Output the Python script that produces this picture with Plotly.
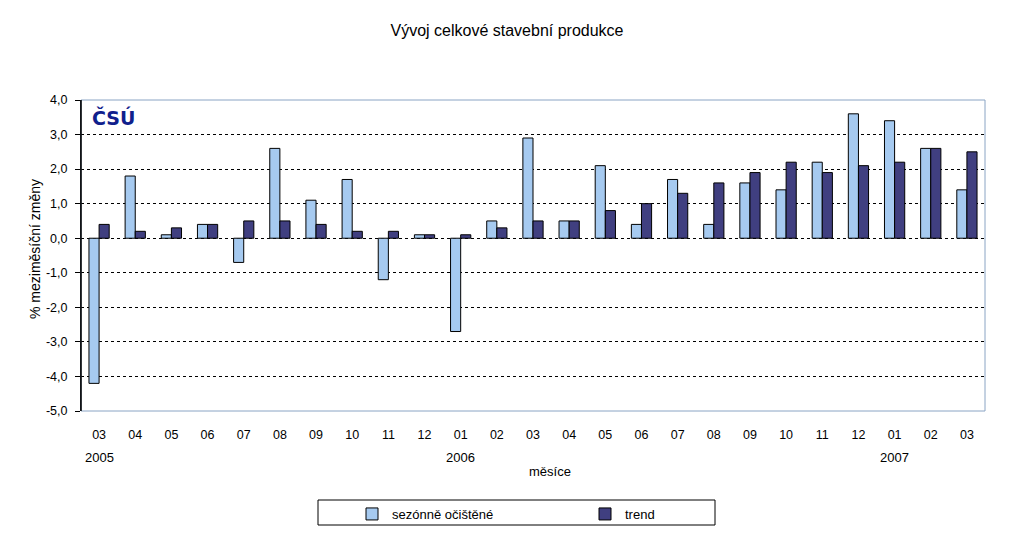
import plotly.graph_objects as go

months = ["03", "04", "05", "06", "07", "08", "09", "10", "11", "12",
          "01", "02", "03", "04", "05", "06", "07", "08", "09", "10", "11", "12",
          "01", "02", "03"]
sezonne = [-4.2, 1.8, 0.1, 0.4, -0.7, 2.6, 1.1, 1.7, -1.2, 0.1,
           -2.7, 0.5, 2.9, 0.5, 2.1, 0.4, 1.7, 0.4, 1.6, 1.4, 2.2, 3.6,
           3.4, 2.6, 1.4]
trend = [0.4, 0.2, 0.3, 0.4, 0.5, 0.5, 0.4, 0.2, 0.2, 0.1,
         0.1, 0.3, 0.5, 0.5, 0.8, 1.0, 1.3, 1.6, 1.9, 2.2, 1.9, 2.1,
         2.2, 2.6, 2.5]
years = ["2005", "2006", "2007"]
year_idx = [0, 10, 22]
ytick_vals = [-5, -4, -3, -2, -1, 0, 1, 2, 3, 4]
ytick_text = ["-5,0", "-4,0", "-3,0", "-2,0", "-1,0", "0,0", "1,0", "2,0", "3,0", "4,0"]

xs = list(range(len(months)))
FONT = "Liberation Sans, Arial, sans-serif"

fig = go.Figure()
fig.add_trace(go.Bar(x=xs, y=sezonne, name="sezónně očištěné",
                     marker=dict(color="#a6caf0", line=dict(color="black", width=1))))
fig.add_trace(go.Bar(x=xs, y=trend, name="trend",
                     marker=dict(color="#403f80", line=dict(color="black", width=1))))

fig.update_layout(
    width=1020, height=536,
    margin=dict(l=81, r=35, t=100, b=125, autoexpand=False),
    paper_bgcolor="white", plot_bgcolor="white",
    font=dict(family=FONT, size=12, color="black"),
    barmode="group", bargap=0.44, bargroupgap=0,
    title=dict(text="Vývoj celkové stavební produkce", x=507 / 1020, xanchor="center",
               xref="container", yref="container",
               y=1 - 30 / 536, yanchor="middle", font=dict(size=16, family=FONT)),
    showlegend=True,
    legend=dict(orientation="h", x=(352 - 81) / 904, y=(411 - 499) / 311,
                xanchor="left", yanchor="top",
                entrywidth=188, entrywidthmode="pixels",
                font=dict(size=13, family=FONT), bgcolor="rgba(0,0,0,0)",
                itemwidth=30),
)
fig.update_xaxes(
    tickmode="array", tickvals=xs, ticktext=months, range=[-0.5, len(months) - 0.5],
    showline=False, showgrid=False, zeroline=False,
    ticks="outside", ticklen=12, tickcolor="rgba(0,0,0,0)",
    tickfont=dict(size=12.5), fixedrange=True,
)
fig.update_yaxes(
    range=[-5, 4], tickmode="array", tickvals=ytick_vals, ticktext=ytick_text,
    showgrid=True, gridcolor="black", gridwidth=1, griddash="3px,3px",
    zeroline=False, showline=True, linecolor="black", linewidth=1,
    ticks="outside", ticklen=5, tickcolor="black", tickfont=dict(size=12.5),
    ticklabelstandoff=5,
)

# plot area border
fig.add_shape(type="rect", xref="paper", yref="paper", x0=0, x1=1, y0=0, y1=1,
              line=dict(color="#8aa4c4", width=1), layer="above")
fig.add_shape(type="line", xref="paper", yref="paper", x0=0, x1=0, y0=0, y1=1,
              line=dict(color="black", width=1.5), layer="above")
# legend box
fig.add_shape(type="rect", xref="paper", yref="paper",
              x0=(318 - 81) / 904, x1=(715 - 81) / 904,
              y0=(411 - 525) / 311, y1=(411 - 500) / 311,
              line=dict(color="black", width=1), layer="above")

for yr, i in zip(years, year_idx):
    fig.add_annotation(x=i, y=(411 - 457) / 311, xref="x", yref="paper", text=yr,
                       showarrow=False, font=dict(size=13), xanchor="center", yanchor="middle")
fig.add_annotation(x=(550 - 81) / 904, y=(411 - 471) / 311, xref="paper", yref="paper",
                   text="měsíce", showarrow=False, font=dict(size=13),
                   xanchor="center", yanchor="middle")
fig.add_annotation(x=(35 - 81) / 904, y=(411 - 249) / 311, xref="paper", yref="paper",
                   text="% meziměsíční změny", textangle=-90, showarrow=False,
                   font=dict(size=14), xanchor="center", yanchor="middle")
fig.add_annotation(x=(90 - 81) / 904, y=(411 - 117) / 311, xref="paper", yref="paper",
                   text="<b>ČSÚ</b>", showarrow=False,
                   font=dict(size=19, color="#10208c", family="DejaVu Sans, sans-serif"),
                   xanchor="left", yanchor="middle")

fig.write_html("out.html", config={"displayModeBar": False},
               post_script="document.body.style.margin='0';document.body.style.overflow='hidden';")
